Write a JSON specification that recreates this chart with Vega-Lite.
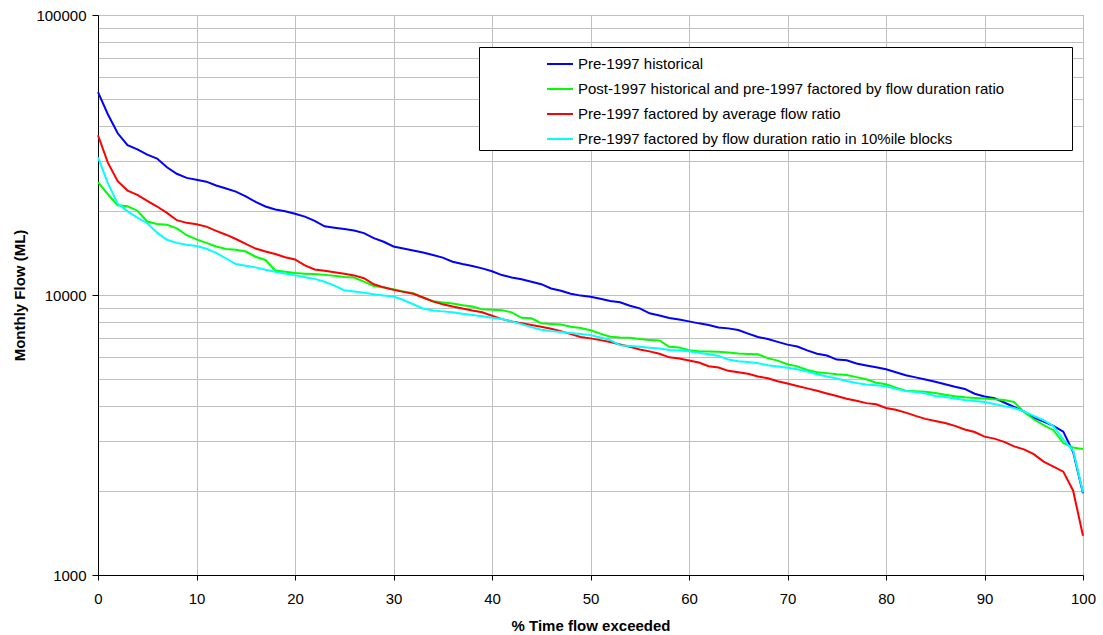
{
  "$schema": "https://vega.github.io/schema/vega-lite/v6.json",
  "width": 985,
  "height": 560,
  "autosize": {"type": "none"},
  "padding": {"left": 98, "top": 15, "right": 20, "bottom": 60},
  "background": "white",
  "config": {
    "font": "Liberation Sans",
    "view": {"stroke": "#808080", "strokeWidth": 1},
    "axis": {
      "labelFont": "Liberation Sans", "labelFontSize": 15, "labelColor": "black",
      "titleFont": "Liberation Sans", "titleFontSize": 15, "titleFontWeight": "bold", "titleColor": "black",
      "domainColor": "black", "tickColor": "black", "gridColor": "#c0c0c0", "gridWidth": 1
    }
  },
  "datasets": {
    "names": [
      {"k": "B", "series": "Pre-1997 historical"},
      {"k": "G", "series": "Post-1997 historical and pre-1997 factored by flow duration ratio"},
      {"k": "R", "series": "Pre-1997 factored by average flow ratio"},
      {"k": "C", "series": "Pre-1997 factored by flow duration ratio in 10%ile blocks"}
    ],
    "flow": [
      {"k":"B","x":0,"y":53000},{"k":"B","x":1,"y":44200},{"k":"B","x":2,"y":37800},{"k":"B","x":3,"y":34300},{"k":"B","x":4,"y":33100},{"k":"B","x":5,"y":31700},{"k":"B","x":6,"y":30700},{"k":"B","x":7,"y":28600},{"k":"B","x":8,"y":27100},{"k":"B","x":9,"y":26200},
      {"k":"B","x":10,"y":25800},{"k":"B","x":11,"y":25400},{"k":"B","x":12,"y":24600},{"k":"B","x":13,"y":24000},{"k":"B","x":14,"y":23400},{"k":"B","x":15,"y":22500},{"k":"B","x":16,"y":21500},{"k":"B","x":17,"y":20700},{"k":"B","x":18,"y":20200},{"k":"B","x":19,"y":19900},
      {"k":"B","x":20,"y":19500},{"k":"B","x":21,"y":19050},{"k":"B","x":22,"y":18400},{"k":"B","x":23,"y":17600},{"k":"B","x":24,"y":17400},{"k":"B","x":25,"y":17200},{"k":"B","x":26,"y":17000},{"k":"B","x":27,"y":16640},{"k":"B","x":28,"y":15970},{"k":"B","x":29,"y":15490},
      {"k":"B","x":30,"y":14900},{"k":"B","x":31,"y":14650},{"k":"B","x":32,"y":14420},{"k":"B","x":33,"y":14180},{"k":"B","x":34,"y":13900},{"k":"B","x":35,"y":13600},{"k":"B","x":36,"y":13150},{"k":"B","x":37,"y":12900},{"k":"B","x":38,"y":12700},{"k":"B","x":39,"y":12450},
      {"k":"B","x":40,"y":12150},{"k":"B","x":41,"y":11780},{"k":"B","x":42,"y":11550},{"k":"B","x":43,"y":11380},{"k":"B","x":44,"y":11150},{"k":"B","x":45,"y":10930},{"k":"B","x":46,"y":10550},{"k":"B","x":47,"y":10350},{"k":"B","x":48,"y":10100},{"k":"B","x":49,"y":9950},
      {"k":"B","x":50,"y":9850},{"k":"B","x":51,"y":9700},{"k":"B","x":52,"y":9520},{"k":"B","x":53,"y":9420},{"k":"B","x":54,"y":9150},{"k":"B","x":55,"y":8960},{"k":"B","x":56,"y":8600},{"k":"B","x":57,"y":8450},{"k":"B","x":58,"y":8280},{"k":"B","x":59,"y":8180},
      {"k":"B","x":60,"y":8050},{"k":"B","x":61,"y":7920},{"k":"B","x":62,"y":7810},{"k":"B","x":63,"y":7650},{"k":"B","x":64,"y":7600},{"k":"B","x":65,"y":7500},{"k":"B","x":66,"y":7280},{"k":"B","x":67,"y":7080},{"k":"B","x":68,"y":6960},{"k":"B","x":69,"y":6800},
      {"k":"B","x":70,"y":6650},{"k":"B","x":71,"y":6550},{"k":"B","x":72,"y":6340},{"k":"B","x":73,"y":6170},{"k":"B","x":74,"y":6080},{"k":"B","x":75,"y":5880},{"k":"B","x":76,"y":5850},{"k":"B","x":77,"y":5690},{"k":"B","x":78,"y":5600},{"k":"B","x":79,"y":5520},
      {"k":"B","x":80,"y":5430},{"k":"B","x":81,"y":5300},{"k":"B","x":82,"y":5170},{"k":"B","x":83,"y":5080},{"k":"B","x":84,"y":4990},{"k":"B","x":85,"y":4900},{"k":"B","x":86,"y":4800},{"k":"B","x":87,"y":4700},{"k":"B","x":88,"y":4620},{"k":"B","x":89,"y":4440},
      {"k":"B","x":90,"y":4340},{"k":"B","x":91,"y":4280},{"k":"B","x":92,"y":4130},{"k":"B","x":93,"y":3980},{"k":"B","x":94,"y":3840},{"k":"B","x":95,"y":3650},{"k":"B","x":96,"y":3530},{"k":"B","x":97,"y":3410},{"k":"B","x":98,"y":3250},{"k":"B","x":99,"y":2750},{"k":"B","x":100,"y":1960},

      {"k":"G","x":0,"y":25300},{"k":"G","x":1,"y":22900},{"k":"G","x":2,"y":20900},{"k":"G","x":3,"y":20750},{"k":"G","x":4,"y":20000},{"k":"G","x":5,"y":18300},{"k":"G","x":6,"y":17920},{"k":"G","x":7,"y":17820},{"k":"G","x":8,"y":17300},{"k":"G","x":9,"y":16350},
      {"k":"G","x":10,"y":15800},{"k":"G","x":11,"y":15350},{"k":"G","x":12,"y":14900},{"k":"G","x":13,"y":14600},{"k":"G","x":14,"y":14500},{"k":"G","x":15,"y":14300},{"k":"G","x":16,"y":13700},{"k":"G","x":17,"y":13340},{"k":"G","x":18,"y":12230},{"k":"G","x":19,"y":12100},
      {"k":"G","x":20,"y":11980},{"k":"G","x":21,"y":11920},{"k":"G","x":22,"y":11880},{"k":"G","x":23,"y":11800},{"k":"G","x":24,"y":11720},{"k":"G","x":25,"y":11600},{"k":"G","x":26,"y":11540},{"k":"G","x":27,"y":11160},{"k":"G","x":28,"y":10770},{"k":"G","x":29,"y":10630},
      {"k":"G","x":30,"y":10480},{"k":"G","x":31,"y":10300},{"k":"G","x":32,"y":10140},{"k":"G","x":33,"y":9800},{"k":"G","x":34,"y":9500},{"k":"G","x":35,"y":9410},{"k":"G","x":36,"y":9320},{"k":"G","x":37,"y":9200},{"k":"G","x":38,"y":9090},{"k":"G","x":39,"y":8900},
      {"k":"G","x":40,"y":8860},{"k":"G","x":41,"y":8830},{"k":"G","x":42,"y":8670},{"k":"G","x":43,"y":8290},{"k":"G","x":44,"y":8260},{"k":"G","x":45,"y":7930},{"k":"G","x":46,"y":7880},{"k":"G","x":47,"y":7840},{"k":"G","x":48,"y":7700},{"k":"G","x":49,"y":7620},
      {"k":"G","x":50,"y":7480},{"k":"G","x":51,"y":7280},{"k":"G","x":52,"y":7090},{"k":"G","x":53,"y":7050},{"k":"G","x":54,"y":7030},{"k":"G","x":55,"y":6960},{"k":"G","x":56,"y":6900},{"k":"G","x":57,"y":6880},{"k":"G","x":58,"y":6530},{"k":"G","x":59,"y":6500},
      {"k":"G","x":60,"y":6350},{"k":"G","x":61,"y":6300},{"k":"G","x":62,"y":6290},{"k":"G","x":63,"y":6270},{"k":"G","x":64,"y":6230},{"k":"G","x":65,"y":6180},{"k":"G","x":66,"y":6160},{"k":"G","x":67,"y":6140},{"k":"G","x":68,"y":5950},{"k":"G","x":69,"y":5830},
      {"k":"G","x":70,"y":5660},{"k":"G","x":71,"y":5560},{"k":"G","x":72,"y":5400},{"k":"G","x":73,"y":5300},{"k":"G","x":74,"y":5260},{"k":"G","x":75,"y":5210},{"k":"G","x":76,"y":5180},{"k":"G","x":77,"y":5090},{"k":"G","x":78,"y":5000},{"k":"G","x":79,"y":4860},
      {"k":"G","x":80,"y":4800},{"k":"G","x":81,"y":4670},{"k":"G","x":82,"y":4550},{"k":"G","x":83,"y":4530},{"k":"G","x":84,"y":4510},{"k":"G","x":85,"y":4470},{"k":"G","x":86,"y":4400},{"k":"G","x":87,"y":4350},{"k":"G","x":88,"y":4310},{"k":"G","x":89,"y":4290},
      {"k":"G","x":90,"y":4270},{"k":"G","x":91,"y":4240},{"k":"G","x":92,"y":4220},{"k":"G","x":93,"y":4150},{"k":"G","x":94,"y":3820},{"k":"G","x":95,"y":3600},{"k":"G","x":96,"y":3430},{"k":"G","x":97,"y":3290},{"k":"G","x":98,"y":2960},{"k":"G","x":99,"y":2850},{"k":"G","x":100,"y":2820},

      {"k":"R","x":0,"y":37200},{"k":"R","x":1,"y":29700},{"k":"R","x":2,"y":25500},{"k":"R","x":3,"y":23600},{"k":"R","x":4,"y":22800},{"k":"R","x":5,"y":21700},{"k":"R","x":6,"y":20700},{"k":"R","x":7,"y":19650},{"k":"R","x":8,"y":18500},{"k":"R","x":9,"y":18100},
      {"k":"R","x":10,"y":17900},{"k":"R","x":11,"y":17550},{"k":"R","x":12,"y":16950},{"k":"R","x":13,"y":16420},{"k":"R","x":14,"y":15850},{"k":"R","x":15,"y":15230},{"k":"R","x":16,"y":14650},{"k":"R","x":17,"y":14300},{"k":"R","x":18,"y":14000},{"k":"R","x":19,"y":13650},
      {"k":"R","x":20,"y":13400},{"k":"R","x":21,"y":12750},{"k":"R","x":22,"y":12330},{"k":"R","x":23,"y":12200},{"k":"R","x":24,"y":12060},{"k":"R","x":25,"y":11900},{"k":"R","x":26,"y":11750},{"k":"R","x":27,"y":11480},{"k":"R","x":28,"y":10920},{"k":"R","x":29,"y":10650},
      {"k":"R","x":30,"y":10430},{"k":"R","x":31,"y":10260},{"k":"R","x":32,"y":10100},{"k":"R","x":33,"y":9800},{"k":"R","x":34,"y":9490},{"k":"R","x":35,"y":9260},{"k":"R","x":36,"y":9100},{"k":"R","x":37,"y":8950},{"k":"R","x":38,"y":8800},{"k":"R","x":39,"y":8680},
      {"k":"R","x":40,"y":8430},{"k":"R","x":41,"y":8200},{"k":"R","x":42,"y":8050},{"k":"R","x":43,"y":7930},{"k":"R","x":44,"y":7820},{"k":"R","x":45,"y":7700},{"k":"R","x":46,"y":7580},{"k":"R","x":47,"y":7430},{"k":"R","x":48,"y":7250},{"k":"R","x":49,"y":7080},
      {"k":"R","x":50,"y":7000},{"k":"R","x":51,"y":6900},{"k":"R","x":52,"y":6790},{"k":"R","x":53,"y":6660},{"k":"R","x":54,"y":6530},{"k":"R","x":55,"y":6390},{"k":"R","x":56,"y":6290},{"k":"R","x":57,"y":6170},{"k":"R","x":58,"y":5990},{"k":"R","x":59,"y":5930},
      {"k":"R","x":60,"y":5840},{"k":"R","x":61,"y":5740},{"k":"R","x":62,"y":5570},{"k":"R","x":63,"y":5510},{"k":"R","x":64,"y":5360},{"k":"R","x":65,"y":5300},{"k":"R","x":66,"y":5230},{"k":"R","x":67,"y":5120},{"k":"R","x":68,"y":5040},{"k":"R","x":69,"y":4920},
      {"k":"R","x":70,"y":4830},{"k":"R","x":71,"y":4730},{"k":"R","x":72,"y":4640},{"k":"R","x":73,"y":4550},{"k":"R","x":74,"y":4450},{"k":"R","x":75,"y":4360},{"k":"R","x":76,"y":4260},{"k":"R","x":77,"y":4190},{"k":"R","x":78,"y":4110},{"k":"R","x":79,"y":4070},
      {"k":"R","x":80,"y":3950},{"k":"R","x":81,"y":3890},{"k":"R","x":82,"y":3800},{"k":"R","x":83,"y":3700},{"k":"R","x":84,"y":3610},{"k":"R","x":85,"y":3550},{"k":"R","x":86,"y":3490},{"k":"R","x":87,"y":3410},{"k":"R","x":88,"y":3310},{"k":"R","x":89,"y":3240},
      {"k":"R","x":90,"y":3120},{"k":"R","x":91,"y":3070},{"k":"R","x":92,"y":2990},{"k":"R","x":93,"y":2880},{"k":"R","x":94,"y":2810},{"k":"R","x":95,"y":2700},{"k":"R","x":96,"y":2540},{"k":"R","x":97,"y":2440},{"k":"R","x":98,"y":2340},{"k":"R","x":99,"y":2000},{"k":"R","x":100,"y":1380},

      {"k":"C","x":0,"y":31000},{"k":"C","x":1,"y":25100},{"k":"C","x":2,"y":21200},{"k":"C","x":3,"y":19900},{"k":"C","x":4,"y":18900},{"k":"C","x":5,"y":18050},{"k":"C","x":6,"y":16700},{"k":"C","x":7,"y":15750},{"k":"C","x":8,"y":15350},{"k":"C","x":9,"y":15120},
      {"k":"C","x":10,"y":14950},{"k":"C","x":11,"y":14620},{"k":"C","x":12,"y":14150},{"k":"C","x":13,"y":13500},{"k":"C","x":14,"y":12900},{"k":"C","x":15,"y":12730},{"k":"C","x":16,"y":12550},{"k":"C","x":17,"y":12300},{"k":"C","x":18,"y":12100},{"k":"C","x":19,"y":11930},
      {"k":"C","x":20,"y":11750},{"k":"C","x":21,"y":11580},{"k":"C","x":22,"y":11420},{"k":"C","x":23,"y":11150},{"k":"C","x":24,"y":10800},{"k":"C","x":25,"y":10400},{"k":"C","x":26,"y":10300},{"k":"C","x":27,"y":10190},{"k":"C","x":28,"y":10060},{"k":"C","x":29,"y":9960},
      {"k":"C","x":30,"y":9870},{"k":"C","x":31,"y":9600},{"k":"C","x":32,"y":9270},{"k":"C","x":33,"y":8950},{"k":"C","x":34,"y":8800},{"k":"C","x":35,"y":8740},{"k":"C","x":36,"y":8670},{"k":"C","x":37,"y":8570},{"k":"C","x":38,"y":8480},{"k":"C","x":39,"y":8400},
      {"k":"C","x":40,"y":8300},{"k":"C","x":41,"y":8210},{"k":"C","x":42,"y":8050},{"k":"C","x":43,"y":7870},{"k":"C","x":44,"y":7680},{"k":"C","x":45,"y":7520},{"k":"C","x":46,"y":7430},{"k":"C","x":47,"y":7370},{"k":"C","x":48,"y":7310},{"k":"C","x":49,"y":7250},
      {"k":"C","x":50,"y":7190},{"k":"C","x":51,"y":7050},{"k":"C","x":52,"y":6900},{"k":"C","x":53,"y":6620},{"k":"C","x":54,"y":6570},{"k":"C","x":55,"y":6530},{"k":"C","x":56,"y":6480},{"k":"C","x":57,"y":6440},{"k":"C","x":58,"y":6360},{"k":"C","x":59,"y":6330},
      {"k":"C","x":60,"y":6300},{"k":"C","x":61,"y":6220},{"k":"C","x":62,"y":6140},{"k":"C","x":63,"y":6060},{"k":"C","x":64,"y":5880},{"k":"C","x":65,"y":5800},{"k":"C","x":66,"y":5760},{"k":"C","x":67,"y":5710},{"k":"C","x":68,"y":5610},{"k":"C","x":69,"y":5550},
      {"k":"C","x":70,"y":5500},{"k":"C","x":71,"y":5430},{"k":"C","x":72,"y":5330},{"k":"C","x":73,"y":5210},{"k":"C","x":74,"y":5120},{"k":"C","x":75,"y":5030},{"k":"C","x":76,"y":4930},{"k":"C","x":77,"y":4850},{"k":"C","x":78,"y":4790},{"k":"C","x":79,"y":4760},
      {"k":"C","x":80,"y":4720},{"k":"C","x":81,"y":4620},{"k":"C","x":82,"y":4540},{"k":"C","x":83,"y":4500},{"k":"C","x":84,"y":4460},{"k":"C","x":85,"y":4360},{"k":"C","x":86,"y":4320},{"k":"C","x":87,"y":4270},{"k":"C","x":88,"y":4220},{"k":"C","x":89,"y":4180},
      {"k":"C","x":90,"y":4150},{"k":"C","x":91,"y":4080},{"k":"C","x":92,"y":4010},{"k":"C","x":93,"y":3950},{"k":"C","x":94,"y":3840},{"k":"C","x":95,"y":3700},{"k":"C","x":96,"y":3570},{"k":"C","x":97,"y":3400},{"k":"C","x":98,"y":3050},{"k":"C","x":99,"y":2780},{"k":"C","x":100,"y":1970}
    ]
  },
  "data": {"name": "flow"},
  "transform": [
    {"lookup": "k", "from": {"data": {"name": "names"}, "key": "k", "fields": ["series"]}}
  ],
  "mark": {"type": "line", "strokeWidth": 2, "interpolate": "linear"},
  "encoding": {
    "x": {
      "field": "x", "type": "quantitative",
      "scale": {"domain": [0, 100], "nice": false},
      "axis": {
        "title": "% Time flow exceeded",
        "values": [0, 10, 20, 30, 40, 50, 60, 70, 80, 90, 100],
        "grid": true, "tickSize": 5, "labelPadding": 11, "titlePadding": 12,
        "labelFlush": false
      }
    },
    "y": {
      "field": "y", "type": "quantitative",
      "scale": {"type": "log", "domain": [1000, 100000], "nice": false},
      "axis": {
        "title": "Monthly Flow (ML)",
        "values": [1000, 2000, 3000, 4000, 5000, 6000, 7000, 8000, 9000, 10000, 20000, 30000, 40000, 50000, 60000, 70000, 80000, 90000, 100000],
        "format": "d",
        "labelExpr": "(datum.value == 1000 || datum.value == 10000 || datum.value == 100000) ? datum.label : ''",
        "tickOpacity": {"condition": {"test": "datum.value == 1000 || datum.value == 10000 || datum.value == 100000", "value": 1}, "value": 0},
        "grid": true, "tickSize": 6, "labelPadding": 6, "titlePadding": 8,
        "labelFlush": false, "labelOverlap": false
      }
    },
    "color": {
      "field": "series", "type": "nominal",
      "scale": {
        "domain": [
          "Pre-1997 historical",
          "Post-1997 historical and pre-1997 factored by flow duration ratio",
          "Pre-1997 factored by average flow ratio",
          "Pre-1997 factored by flow duration ratio in 10%ile blocks"
        ],
        "range": ["#0000ff", "#00ff00", "#ff0000", "#00ffff"]
      },
      "legend": {
        "orient": "none", "legendX": 381, "legendY": 32,
        "title": "|", "titleOrient": "right", "titlePadding": 60, "titleFontSize": 15, "titleOpacity": 0,
        "strokeColor": "black", "fillColor": "white", "padding": 3,
        "symbolType": "stroke", "symbolSize": 676, "symbolStrokeWidth": 2,
        "symbolOffset": 64, "labelOffset": 4, "rowPadding": 3,
        "labelFont": "Liberation Sans", "labelFontSize": 15, "labelColor": "black", "labelLimit": 0
      }
    }
  }
}
